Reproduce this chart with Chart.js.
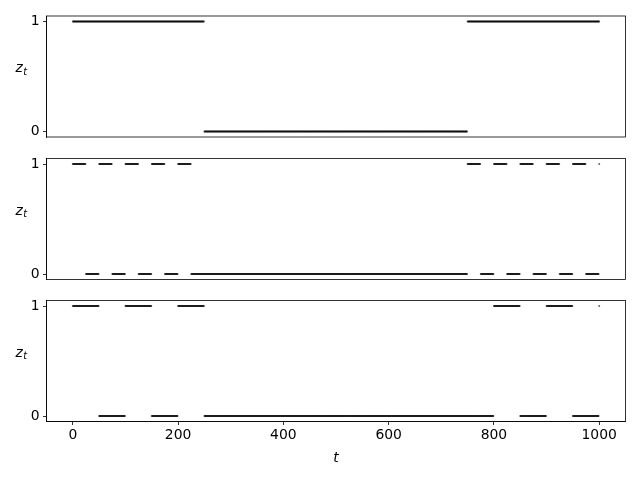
<!DOCTYPE html>
<html>
<head>
<meta charset="utf-8">
<script src="https://cdn.jsdelivr.net/npm/chart.js@4/dist/chart.umd.min.js"></script>
<style>
  html, body { margin: 0; padding: 0; background: #ffffff; }
  #wrap { position: relative; width: 640px; height: 480px; background: #ffffff; }
  #wrap canvas { position: absolute; left: 0; top: 0; }
</style>
</head>
<body>
<div id="wrap">
  <canvas id="c1" width="640" height="480"></canvas>
  <canvas id="c2" width="640" height="480"></canvas>
  <canvas id="c3" width="640" height="480"></canvas>
</div>
<script>
// ---- data ----
const xTicks = [0, 200, 400, 600, 800, 1000];
const yTicks = [0, 1];
const xLabel = 't';
const yLabelMain = 'z';
const yLabelSub = 't';
// runs of the binary state z_t: [first t, last t, value]
const z1Runs = [[0, 249, 1], [250, 749, 0], [750, 1000, 1]];
const z2Runs = [[0, 24, 1], [25, 49, 0], [50, 74, 1], [75, 99, 0], [100, 124, 1], [125, 149, 0],
                [150, 174, 1], [175, 199, 0], [200, 224, 1], [225, 749, 0], [750, 774, 1], [775, 799, 0],
                [800, 824, 1], [825, 849, 0], [850, 874, 1], [875, 899, 0], [900, 924, 1], [925, 949, 0],
                [950, 974, 1], [975, 999, 0], [1000, 1000, 1]];
const z3Runs = [[0, 49, 1], [50, 99, 0], [100, 149, 1], [150, 199, 0], [200, 249, 1], [250, 799, 0],
                [800, 849, 1], [850, 899, 0], [900, 949, 1], [950, 999, 0], [1000, 1000, 1]];

function expandRuns(runs) {
  const pts = [];
  runs.forEach(([a, b, v]) => { for (let t = a; t <= b; t++) pts.push({ x: t, y: v }); });
  return pts;
}

Chart.defaults.font.family = "'DejaVu Sans', sans-serif";
Chart.defaults.font.size = 13.9;
Chart.defaults.color = '#000000';

const FONT = "'DejaVu Sans', sans-serif";

const framePlugin = {
  id: 'frame',
  afterDraw(chart, args, opts) {
    const { ctx, chartArea: a } = chart;
    ctx.save();
    ctx.strokeStyle = '#000000';
    ctx.lineWidth = 0.8;
    ctx.strokeRect(a.left, a.top, a.right - a.left, a.bottom - a.top);
    // y label z_t
    const midY = (a.top + a.bottom) / 2;
    ctx.fillStyle = '#000000';
    ctx.textBaseline = 'alphabetic';
    ctx.textAlign = 'left';
    ctx.font = 'italic 13.9px ' + FONT;
    ctx.fillText(yLabelMain, 15.5, midY - 4.3);
    ctx.font = 'italic 9.7px ' + FONT;
    ctx.fillText(yLabelSub, 23.3, midY - 2.0);
    if (opts.xlabel) {
      ctx.font = 'italic 13.9px ' + FONT;
      ctx.textAlign = 'center';
      ctx.fillText(xLabel, (a.left + a.right) / 2, 462);
    }
    ctx.restore();
  }
};

function makeChart(id, runs, padTop, padBottom, showX) {
  const ctx = document.getElementById(id);
  const xScale = {
    type: 'linear',
    min: -50, max: 1050,
    display: showX,
    afterBuildTicks: s => { s.ticks = xTicks.map(v => ({ value: v })); },
    ticks: { padding: 2.5, maxRotation: 0, autoSkip: false, color: '#000000', callback: v => String(v) },
    grid: { display: true, drawOnChartArea: false, drawTicks: true, tickLength: 3.5, color: '#000000', lineWidth: 0.8 },
    border: { display: true, color: '#000000', width: 0.8 }
  };
  if (showX) xScale.afterFit = s => { s.height = 58.5; };
  return new Chart(ctx, {
    type: 'scatter',
    data: {
      datasets: [{
        data: expandRuns(runs),
        pointRadius: 1.0,
        pointHoverRadius: 1.0,
        pointBackgroundColor: 'rgba(0,0,0,0.6)',
        pointBorderWidth: 0,
        showLine: false
      }]
    },
    options: {
      responsive: false,
      animation: false,
      devicePixelRatio: 1,
      events: [],
      layout: { padding: { top: padTop, bottom: padBottom, left: 0, right: 14.5 } },
      plugins: {
        legend: { display: false },
        tooltip: { enabled: false },
        frame: { xlabel: showX }
      },
      scales: {
        x: xScale,
        y: {
          type: 'linear',
          min: -0.05, max: 1.05,
          afterBuildTicks: s => { s.ticks = yTicks.map(v => ({ value: v })); },
          afterFit: s => { s.width = 46.5; },
          ticks: { padding: 3.5, color: '#000000', callback: v => String(v) },
          grid: { display: true, drawOnChartArea: false, drawTicks: true, tickLength: 3.5, color: '#000000', lineWidth: 0.8 },
          border: { display: true, color: '#000000', width: 0.8 }
        }
      }
    },
    plugins: [framePlugin]
  });
}

makeChart('c1', z1Runs, 16, 343, false);
makeChart('c2', z2Runs, 158.5, 200.5, false);
makeChart('c3', z3Runs, 300.5, 0, true);
</script>
</body>
</html>
